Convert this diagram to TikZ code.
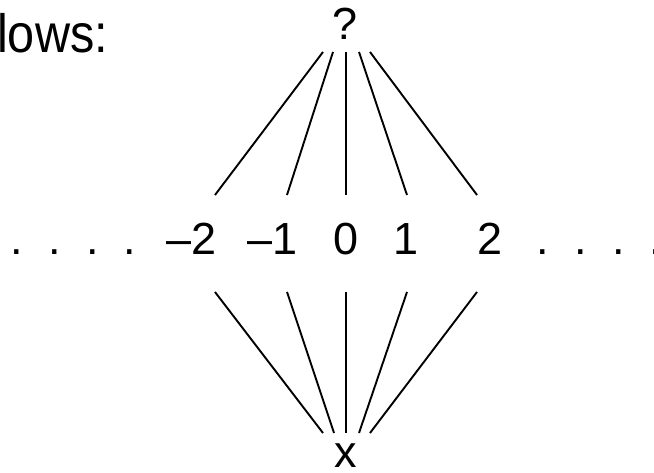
\documentclass[tikz,border=0pt]{standalone}
\usepackage{fontspec}
\usepackage{graphicx}
\setmainfont{Liberation Sans}
\tikzset{
  lbl/.style={inner sep=0pt, anchor=base, font=\fontsize{45}{50}\selectfont},
  link/.style={line width=1.9pt, line cap=butt}
}
\begin{document}
\begin{tikzpicture}[x=1pt,y=1pt]
\useasboundingbox (0,0) rectangle (654,473);
\clip (0,0) rectangle (654,473);
% text
\node[lbl, anchor=base west, font=\fontsize{54}{60}\selectfont] (intro) at (-3,420) {\scalebox{0.9}[1]{lows:}};
\node[lbl] (top) at (345,433) {?};
\node[lbl] (bot) at (346,5) {x};
\node[lbl] (m2) at (192,218) {–2};
\node[lbl] (m1) at (273,218) {–1};
\node[lbl] (z0) at (346,218) {0};
\node[lbl] (p1) at (406,218) {1};
\node[lbl] (p2) at (490,218) {2};
% dots
\foreach \i/\xx in {1/17,2/55,3/93,4/130,5/543,6/581,7/619}
  \node[lbl] (d\i) at (\xx,218) {.};
\node[lbl] (d8) at (656,218) {\makebox[0pt]{.}};
% connector ends
\coordinate (ta) at (323,421);
\coordinate (tb) at (333,421);
\coordinate (tc) at (346,421);
\coordinate (td) at (359,421);
\coordinate (te) at (370,421);
\coordinate (ua) at (215,278);
\coordinate (ub) at (287,278);
\coordinate (uc) at (346,278);
\coordinate (ud) at (407,278);
\coordinate (ue) at (477,278);
\coordinate (la) at (215,181);
\coordinate (lb) at (287,181);
\coordinate (lc) at (346,181);
\coordinate (ld) at (407,181);
\coordinate (le) at (477,181);
\coordinate (ba) at (323,40);
\coordinate (bb) at (334,40);
\coordinate (bc) at (346,40);
\coordinate (bd) at (359,40);
\coordinate (be) at (370,40);
\foreach \a/\b in {ta/ua,tb/ub,tc/uc,td/ud,te/ue,la/ba,lb/bb,lc/bc,ld/bd,le/be}
  \draw[link] (\a) -- (\b);
\end{tikzpicture}
\end{document}
